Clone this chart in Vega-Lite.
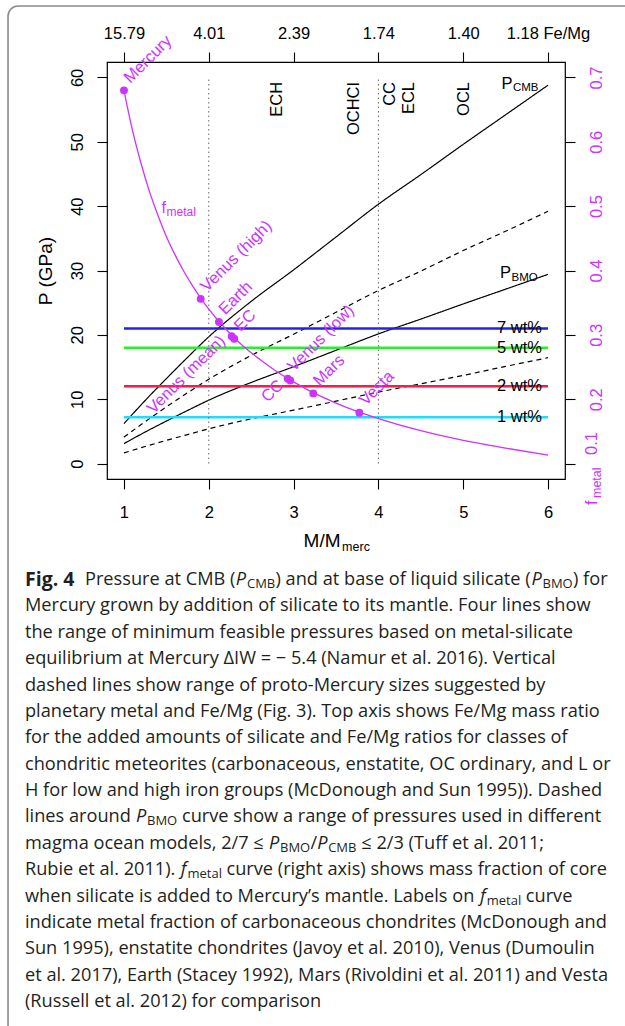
{
"$schema":"https://vega.github.io/schema/vega-lite/v6.json",
"width":458,"height":417,
"autosize":{"type":"none"},
"padding":{"left":107,"top":62,"right":60,"bottom":547},
"background":"white",
"config":{"view":{"stroke":"black","strokeWidth":1.2},"font":"Liberation Sans","text":{"font":"Liberation Sans"}},
"datasets":{
"curves":[
{"x":1,"series":"CMB","p":6.2},{"x":1,"series":"BMO","p":3.1},{"x":1,"series":"upper","p":4.1},{"x":1,"series":"lower","p":1.65},
{"x":1.25,"series":"CMB","p":9.8},{"x":1.25,"series":"BMO","p":4.9},{"x":1.25,"series":"upper","p":6.5},{"x":1.25,"series":"lower","p":2.65},
{"x":1.5,"series":"CMB","p":13.2},{"x":1.5,"series":"BMO","p":6.6},{"x":1.5,"series":"upper","p":8.8},{"x":1.5,"series":"lower","p":3.6},
{"x":1.75,"series":"CMB","p":16.5},{"x":1.75,"series":"BMO","p":8.25},{"x":1.75,"series":"upper","p":11.0},{"x":1.75,"series":"lower","p":4.5},
{"x":2,"series":"CMB","p":19.7},{"x":2,"series":"BMO","p":9.85},{"x":2,"series":"upper","p":13.1},{"x":2,"series":"lower","p":5.4},
{"x":2.5,"series":"CMB","p":25.2},{"x":2.5,"series":"BMO","p":12.6},{"x":2.5,"series":"upper","p":16.8},{"x":2.5,"series":"lower","p":6.95},
{"x":3,"series":"CMB","p":30.1},{"x":3,"series":"BMO","p":15.05},{"x":3,"series":"upper","p":20.1},{"x":3,"series":"lower","p":8.3},
{"x":3.5,"series":"CMB","p":35.2},{"x":3.5,"series":"BMO","p":17.6},{"x":3.5,"series":"upper","p":23.5},{"x":3.5,"series":"lower","p":9.7},
{"x":4,"series":"CMB","p":40.3},{"x":4,"series":"BMO","p":20.15},{"x":4,"series":"upper","p":26.9},{"x":4,"series":"lower","p":11.1},
{"x":4.5,"series":"CMB","p":44.9},{"x":4.5,"series":"BMO","p":22.45},{"x":4.5,"series":"upper","p":29.9},{"x":4.5,"series":"lower","p":12.4},
{"x":5,"series":"CMB","p":49.6},{"x":5,"series":"BMO","p":24.8},{"x":5,"series":"upper","p":33.1},{"x":5,"series":"lower","p":13.7},
{"x":5.5,"series":"CMB","p":54.2},{"x":5.5,"series":"BMO","p":27.1},{"x":5.5,"series":"upper","p":36.1},{"x":5.5,"series":"lower","p":15.1},
{"x":6,"series":"CMB","p":58.8},{"x":6,"series":"BMO","p":29.4},{"x":6,"series":"upper","p":39.2},{"x":6,"series":"lower","p":16.45}
],
"pts":[
{"name":"Mercury","x":1,"f":0.68,"side":"r"},
{"name":"Venus (high)","x":1.905,"f":0.356,"side":"r"},
{"name":"Earth","x":2.12,"f":0.32,"side":"r"},
{"name":"EC","x":2.3,"f":0.294,"side":"r"},
{"name":"Venus (mean)","x":2.27,"f":0.298,"side":"l"},
{"name":"CC","x":2.96,"f":0.229,"side":"l"},
{"name":"Venus (low)","x":2.93,"f":0.232,"side":"r"},
{"name":"Mars","x":3.232,"f":0.209,"side":"r"},
{"name":"Vesta","x":3.775,"f":0.179,"side":"r"}
],
"fcurve":[
{"x":1,"f":0.68},{"x":1.1,"f":0.618},{"x":1.2,"f":0.567},{"x":1.3,"f":0.523},{"x":1.4,"f":0.486},{"x":1.5,"f":0.453},{"x":1.6,"f":0.425},{"x":1.7,"f":0.4},{"x":1.8,"f":0.378},{"x":1.9,"f":0.358},{"x":2,"f":0.34},{"x":2.2,"f":0.309},{"x":2.4,"f":0.283},{"x":2.6,"f":0.262},{"x":2.8,"f":0.243},{"x":3,"f":0.227},{"x":3.25,"f":0.209},{"x":3.5,"f":0.194},{"x":3.75,"f":0.181},{"x":4,"f":0.17},{"x":4.5,"f":0.151},{"x":5,"f":0.136},{"x":5.5,"f":0.124},{"x":6,"f":0.113}
],
"wt":[{"label":"7 wt%","p":21},{"label":"5 wt%","p":18},{"label":"2 wt%","p":12},{"label":"1 wt%","p":7.2}]
},
"layer":[
{"layer":[
 {"data":{"name":"curves"},
  "mark":{"type":"line","color":"black","strokeWidth":1.2,"interpolate":"monotone"},
  "encoding":{
   "x":{"field":"x","type":"quantitative","scale":{"domain":[0.8,6.2],"nice":false,"zero":false},
     "axis":{"orient":"bottom","values":[1,2,3,4,5,6],"format":"d","title":null,"grid":false,"domain":false,"tickSize":10,"tickColor":"black","tickWidth":1.1,"labelFontSize":16.5,"labelColor":"black","labelPadding":15,"labelBaseline":"top","labelFlush":false,"labelOverlap":false}},
   "y":{"field":"p","type":"quantitative","scale":{"domain":[-2.4,62.4],"nice":false,"zero":false},
     "axis":{"orient":"left","values":[0,10,20,30,40,50,60],"title":"P (GPa)","titleFontSize":19,"titleFontWeight":"normal","titleColor":"black","titleFont":"Liberation Sans","titlePadding":14,"grid":false,"domain":false,"tickSize":10,"tickColor":"black","tickWidth":1.1,"labelFontSize":16.5,"labelColor":"black","labelAngle":270,"labelAlign":"center","labelBaseline":"alphabetic","labelPadding":15,"labelFlush":false,"labelOverlap":false}},
   "strokeDash":{"field":"series","type":"nominal","scale":{"domain":["CMB","BMO","upper","lower"],"range":[[1,0],[1,0],[5,4],[5,4]]},"legend":null}
  }},
 {"data":{"name":"wt"},
  "mark":{"type":"rule","strokeWidth":2.5},
  "encoding":{"x":{"datum":1,"type":"quantitative"},"x2":{"datum":6},"y":{"field":"p","type":"quantitative"},
   "color":{"field":"label","type":"nominal","scale":{"domain":["7 wt%","5 wt%","2 wt%","1 wt%"],"range":["#2323E6","#28F028","#FF1946","#1EDCFA"]},"legend":null}}},
 {"data":{"name":"wt"},
  "mark":{"type":"text","align":"right","baseline":"middle","dx":-6,"fontSize":16.5,"color":"black"},
  "encoding":{"x":{"datum":6,"type":"quantitative"},"y":{"field":"p","type":"quantitative"},"text":{"field":"label"}}},
 {"data":{"values":[{"x":2},{"x":4}]},
  "mark":{"type":"rule","color":"#666666","strokeWidth":1,"strokeDash":[1.5,3]},
  "encoding":{"x":{"field":"x","type":"quantitative"},"y":{"datum":0,"type":"quantitative"},"y2":{"datum":60}}},
 {"data":{"values":[{"label":"ECH","x":2.81},{"label":"OCHCI","x":3.71},{"label":"CC","x":4.14},{"label":"ECL","x":4.36},{"label":"OCL","x":5.01}]},
  "mark":{"type":"text","angle":270,"align":"right","baseline":"middle","fontSize":16.5,"color":"black"},
  "encoding":{"x":{"field":"x","type":"quantitative"},"y":{"datum":59.3,"type":"quantitative"},"text":{"field":"label"}}},
 {"data":{"values":[{"x":5.45,"p":59,"sub":"CMB"},{"x":5.435,"p":29.6,"sub":"BMO"}]},
  "mark":{"type":"text","text":"P","align":"left","baseline":"middle","fontSize":16.5,"color":"black"},
  "encoding":{"x":{"field":"x","type":"quantitative"},"y":{"field":"p","type":"quantitative"}}},
 {"data":{"values":[{"x":5.45,"p":59,"sub":"CMB"},{"x":5.435,"p":29.6,"sub":"BMO"}]},
  "mark":{"type":"text","align":"left","baseline":"middle","dx":11.5,"dy":4.5,"fontSize":11.5,"color":"black"},
  "encoding":{"x":{"field":"x","type":"quantitative"},"y":{"field":"p","type":"quantitative"},"text":{"field":"sub"}}},
 {"data":{"values":[{"x":3.118,"p":-12.97}]},
  "mark":{"type":"text","text":"M/M","align":"left","baseline":"alphabetic","fontSize":19,"color":"black"},
  "encoding":{"x":{"field":"x","type":"quantitative"},"y":{"field":"p","type":"quantitative"}}},
 {"data":{"values":[{"x":3.118,"p":-12.97}]},
  "mark":{"type":"text","text":"merc","align":"left","baseline":"alphabetic","dx":38.5,"dy":4,"fontSize":12.5,"color":"black"},
  "encoding":{"x":{"field":"x","type":"quantitative"},"y":{"field":"p","type":"quantitative"}}},
 {"data":{"values":[{}]},
  "mark":{"type":"rect","fill":"transparent","stroke":"#8a8a8a","strokeWidth":1.6,"cornerRadius":10},
  "encoding":{"x":{"datum":-0.367,"type":"quantitative"},"x2":{"datum":7.3},"y":{"datum":71.1,"type":"quantitative"},"y2":{"datum":-95}}}
]},
{"layer":[
 {"data":{"name":"fcurve"},
  "mark":{"type":"line","color":"#CC33FF","strokeWidth":1.3,"interpolate":"monotone"},
  "encoding":{
   "x":{"field":"x","type":"quantitative","scale":{"domain":[0.8,6.2],"nice":false,"zero":false},
     "axis":{"orient":"top","values":[1,2,3,4,5,6],"labelExpr":"['','15.79','4.01','2.39','1.74','1.40','1.18 Fe/Mg'][datum.value]","title":null,"grid":false,"domain":false,"tickSize":10,"tickColor":"black","tickWidth":1.1,"labelFontSize":16.5,"labelColor":"black","labelPadding":14,"labelBaseline":"alphabetic","labelFlush":false,"labelOverlap":false}},
   "y":{"field":"f","type":"quantitative","scale":{"domain":[0.076,0.724],"nice":false,"zero":false},
     "axis":{"orient":"right","values":[0.1,0.2,0.3,0.4,0.5,0.6,0.7],"labelExpr":"datum.value < 0.15 ? '' : format(datum.value, '.1f')","title":null,"grid":false,"domain":false,"tickSize":10,"tickColor":"black","tickWidth":1.1,"labelFontSize":16.5,"labelColor":"#CC33FF","labelAngle":270,"labelAlign":"center","labelBaseline":"top","labelPadding":13,"labelFlush":false,"labelOverlap":false}}
  }},
 {"data":{"name":"pts"},
  "mark":{"type":"circle","size":62,"opacity":1,"color":"#CC33FF"},
  "encoding":{"x":{"field":"x","type":"quantitative"},"y":{"field":"f","type":"quantitative"}}},
 {"data":{"name":"pts"},
  "transform":[{"filter":"datum.side == 'r'"}],
  "mark":{"type":"text","angle":315,"align":"left","baseline":"alphabetic","dx":9,"fontSize":16.5,"color":"#CC33FF"},
  "encoding":{"x":{"field":"x","type":"quantitative"},"y":{"field":"f","type":"quantitative"},"text":{"field":"name"}}},
 {"data":{"name":"pts"},
  "transform":[{"filter":"datum.side == 'l'"}],
  "mark":{"type":"text","angle":315,"align":"right","baseline":"alphabetic","dx":-8,"fontSize":16.5,"color":"#CC33FF"},
  "encoding":{"x":{"field":"x","type":"quantitative"},"y":{"field":"f","type":"quantitative"},"text":{"field":"name"}}},
 {"data":{"values":[{"x":1.443,"f":0.489}]},
  "mark":{"type":"text","text":"f","align":"left","baseline":"alphabetic","fontSize":16,"color":"#CC33FF"},
  "encoding":{"x":{"field":"x","type":"quantitative"},"y":{"field":"f","type":"quantitative"}}},
 {"data":{"values":[{"x":1.443,"f":0.489}]},
  "mark":{"type":"text","text":"metal","align":"left","baseline":"alphabetic","dx":5,"dy":3,"fontSize":12,"color":"#CC33FF"},
  "encoding":{"x":{"field":"x","type":"quantitative"},"y":{"field":"f","type":"quantitative"}}},
 {"data":{"values":[{"x":6.575,"f":0.0356}]},
  "mark":{"type":"text","text":"f","angle":270,"align":"left","baseline":"alphabetic","fontSize":16.5,"color":"#CC33FF"},
  "encoding":{"x":{"field":"x","type":"quantitative"},"y":{"field":"f","type":"quantitative"}}},
 {"data":{"values":[{"x":6.575,"f":0.0356}]},
  "mark":{"type":"text","text":"metal","angle":270,"align":"left","baseline":"alphabetic","dx":7,"dy":4,"fontSize":12.5,"color":"#CC33FF"},
  "encoding":{"x":{"field":"x","type":"quantitative"},"y":{"field":"f","type":"quantitative"}}},
 {"data":{"values":[{"x":6.575,"f":0.0356}]},
  "mark":{"type":"text","text":"0.1","angle":270,"align":"left","baseline":"alphabetic","dx":50,"fontSize":16.5,"color":"#CC33FF"},
  "encoding":{"x":{"field":"x","type":"quantitative"},"y":{"field":"f","type":"quantitative"}}}
]},
{"layer":[
 {"data":{"values":[{"line":1,"text":"Fig. 4"}]},
  "mark":{"type":"text","align":"left","baseline":"middle","font":"Open Sans","fontWeight":"bold","fontSize":19.5,"color":"#231F20"},
  "encoding":{"x":{"datum":-0.167,"type":"quantitative","scale":{"domain":[0.8,6.2],"nice":false,"zero":false},"axis":null},
   "y":{"field":"line","type":"quantitative","scale":{"domain":[-18.64,-2.83],"reverse":true,"nice":false,"zero":false},"axis":null},
   "text":{"field":"text"}}},
 {"data":{"values":[{"line":1,"text":"Pressure at CMB ("}]},
  "mark":{"type":"text","align":"left","baseline":"middle","dx":60,"font":"Open Sans","fontSize":18.2,"color":"#231F20"},
  "encoding":{"x":{"datum":-0.167,"type":"quantitative"},"y":{"field":"line","type":"quantitative"},"text":{"field":"text"}}},
 {"data":{"values":[{"line":1,"text":"P"}]},
  "mark":{"type":"text","align":"left","baseline":"middle","dx":210.7,"font":"Open Sans","fontStyle":"italic","fontSize":18.2,"color":"#231F20"},
  "encoding":{"x":{"datum":-0.167,"type":"quantitative"},"y":{"field":"line","type":"quantitative"},"text":{"field":"text"}}},
 {"data":{"values":[{"line":1,"text":"CMB"}]},
  "mark":{"type":"text","align":"left","baseline":"middle","dx":222,"dy":4,"font":"Open Sans","fontSize":13,"color":"#231F20"},
  "encoding":{"x":{"datum":-0.167,"type":"quantitative"},"y":{"field":"line","type":"quantitative"},"text":{"field":"text"}}},
 {"data":{"values":[{"line":1,"text":") and at base of liquid silicate ("}]},
  "mark":{"type":"text","align":"left","baseline":"middle","dx":250.5,"font":"Open Sans","fontSize":18.2,"color":"#231F20"},
  "encoding":{"x":{"datum":-0.167,"type":"quantitative"},"y":{"field":"line","type":"quantitative"},"text":{"field":"text"}}},
 {"data":{"values":[{"line":1,"text":"P"}]},
  "mark":{"type":"text","align":"left","baseline":"middle","dx":506.5,"font":"Open Sans","fontStyle":"italic","fontSize":18.2,"color":"#231F20"},
  "encoding":{"x":{"datum":-0.167,"type":"quantitative"},"y":{"field":"line","type":"quantitative"},"text":{"field":"text"}}},
 {"data":{"values":[{"line":1,"text":"BMO"}]},
  "mark":{"type":"text","align":"left","baseline":"middle","dx":517.5,"dy":4,"font":"Open Sans","fontSize":13,"color":"#231F20"},
  "encoding":{"x":{"datum":-0.167,"type":"quantitative"},"y":{"field":"line","type":"quantitative"},"text":{"field":"text"}}},
 {"data":{"values":[{"line":1,"text":") for"}]},
  "mark":{"type":"text","align":"left","baseline":"middle","dx":548,"font":"Open Sans","fontSize":18.2,"color":"#231F20"},
  "encoding":{"x":{"datum":-0.167,"type":"quantitative"},"y":{"field":"line","type":"quantitative"},"text":{"field":"text"}}},
 {"data":{"values":[
   {"line":2,"text":"Mercury grown by addition of silicate to its mantle. Four lines show"},
   {"line":3,"text":"the range of minimum feasible pressures based on metal-silicate"},
   {"line":4,"text":"equilibrium at Mercury ΔIW = − 5.4 (Namur et al. 2016). Vertical"},
   {"line":5,"text":"dashed lines show range of proto-Mercury sizes suggested by"},
   {"line":6,"text":"planetary metal and Fe/Mg (Fig. 3). Top axis shows Fe/Mg mass ratio"},
   {"line":7,"text":"for the added amounts of silicate and Fe/Mg ratios for classes of"},
   {"line":8,"text":"chondritic meteorites (carbonaceous, enstatite, OC ordinary, and L or"},
   {"line":9,"text":"H for low and high iron groups (McDonough and Sun 1995)). Dashed"},
   {"line":10,"text":"lines around"},
   {"line":11,"text":"magma ocean models, 2/7 ≤"},
   {"line":12,"text":"Rubie et al. 2011)."},
   {"line":13,"text":"when silicate is added to Mercury’s mantle. Labels on"},
   {"line":14,"text":"indicate metal fraction of carbonaceous chondrites (McDonough and"},
   {"line":15,"text":"Sun 1995), enstatite chondrites (Javoy et al. 2010), Venus (Dumoulin"},
   {"line":16,"text":"et al. 2017), Earth (Stacey 1992), Mars (Rivoldini et al. 2011) and Vesta"},
   {"line":17,"text":"(Russell et al. 2012) for comparison"}
  ]},
  "mark":{"type":"text","align":"left","baseline":"middle","font":"Open Sans","fontSize":18.2,"color":"#231F20"},
  "encoding":{"x":{"datum":-0.167,"type":"quantitative"},"y":{"field":"line","type":"quantitative"},"text":{"field":"text"}}},
 {"data":{"values":[{"line":10,"text":"P"}]},
  "mark":{"type":"text","align":"left","baseline":"middle","dx":111,"font":"Open Sans","fontStyle":"italic","fontSize":18.2,"color":"#231F20"},
  "encoding":{"x":{"datum":-0.167,"type":"quantitative"},"y":{"field":"line","type":"quantitative"},"text":{"field":"text"}}},
 {"data":{"values":[{"line":10,"text":"BMO"}]},
  "mark":{"type":"text","align":"left","baseline":"middle","dx":122,"dy":4,"font":"Open Sans","fontSize":13,"color":"#231F20"},
  "encoding":{"x":{"datum":-0.167,"type":"quantitative"},"y":{"field":"line","type":"quantitative"},"text":{"field":"text"}}},
 {"data":{"values":[{"line":10,"text":"curve show a range of pressures used in different"}]},
  "mark":{"type":"text","align":"left","baseline":"middle","dx":157,"font":"Open Sans","fontSize":18.2,"color":"#231F20"},
  "encoding":{"x":{"datum":-0.167,"type":"quantitative"},"y":{"field":"line","type":"quantitative"},"text":{"field":"text"}}},
 {"data":{"values":[{"line":11,"text":"P"}]},
  "mark":{"type":"text","align":"left","baseline":"middle","dx":244,"font":"Open Sans","fontStyle":"italic","fontSize":18.2,"color":"#231F20"},
  "encoding":{"x":{"datum":-0.167,"type":"quantitative"},"y":{"field":"line","type":"quantitative"},"text":{"field":"text"}}},
 {"data":{"values":[{"line":11,"text":"BMO"}]},
  "mark":{"type":"text","align":"left","baseline":"middle","dx":255,"dy":4,"font":"Open Sans","fontSize":13,"color":"#231F20"},
  "encoding":{"x":{"datum":-0.167,"type":"quantitative"},"y":{"field":"line","type":"quantitative"},"text":{"field":"text"}}},
 {"data":{"values":[{"line":11,"text":"/"}]},
  "mark":{"type":"text","align":"left","baseline":"middle","dx":285.4,"font":"Open Sans","fontSize":18.2,"color":"#231F20"},
  "encoding":{"x":{"datum":-0.167,"type":"quantitative"},"y":{"field":"line","type":"quantitative"},"text":{"field":"text"}}},
 {"data":{"values":[{"line":11,"text":"P"}]},
  "mark":{"type":"text","align":"left","baseline":"middle","dx":292.2,"font":"Open Sans","fontStyle":"italic","fontSize":18.2,"color":"#231F20"},
  "encoding":{"x":{"datum":-0.167,"type":"quantitative"},"y":{"field":"line","type":"quantitative"},"text":{"field":"text"}}},
 {"data":{"values":[{"line":11,"text":"CMB"}]},
  "mark":{"type":"text","align":"left","baseline":"middle","dx":303.2,"dy":4,"font":"Open Sans","fontSize":13,"color":"#231F20"},
  "encoding":{"x":{"datum":-0.167,"type":"quantitative"},"y":{"field":"line","type":"quantitative"},"text":{"field":"text"}}},
 {"data":{"values":[{"line":11,"text":"≤ 2/3 (Tuff et al. 2011;"}]},
  "mark":{"type":"text","align":"left","baseline":"middle","dx":336.3,"font":"Open Sans","fontSize":18.2,"color":"#231F20"},
  "encoding":{"x":{"datum":-0.167,"type":"quantitative"},"y":{"field":"line","type":"quantitative"},"text":{"field":"text"}}},
 {"data":{"values":[{"line":12,"text":"f"}]},
  "mark":{"type":"text","align":"left","baseline":"middle","dx":155.7,"font":"Open Sans","fontStyle":"italic","fontSize":18.2,"color":"#231F20"},
  "encoding":{"x":{"datum":-0.167,"type":"quantitative"},"y":{"field":"line","type":"quantitative"},"text":{"field":"text"}}},
 {"data":{"values":[{"line":12,"text":"metal"}]},
  "mark":{"type":"text","align":"left","baseline":"middle","dx":162.5,"dy":4,"font":"Open Sans","fontSize":13,"color":"#231F20"},
  "encoding":{"x":{"datum":-0.167,"type":"quantitative"},"y":{"field":"line","type":"quantitative"},"text":{"field":"text"}}},
 {"data":{"values":[{"line":12,"text":"curve (right axis) shows mass fraction of core"}]},
  "mark":{"type":"text","align":"left","baseline":"middle","dx":201.5,"font":"Open Sans","fontSize":18.2,"color":"#231F20"},
  "encoding":{"x":{"datum":-0.167,"type":"quantitative"},"y":{"field":"line","type":"quantitative"},"text":{"field":"text"}}},
 {"data":{"values":[{"line":13,"text":"f"}]},
  "mark":{"type":"text","align":"left","baseline":"middle","dx":455,"font":"Open Sans","fontStyle":"italic","fontSize":18.2,"color":"#231F20"},
  "encoding":{"x":{"datum":-0.167,"type":"quantitative"},"y":{"field":"line","type":"quantitative"},"text":{"field":"text"}}},
 {"data":{"values":[{"line":13,"text":"metal"}]},
  "mark":{"type":"text","align":"left","baseline":"middle","dx":461.8,"dy":4,"font":"Open Sans","fontSize":13,"color":"#231F20"},
  "encoding":{"x":{"datum":-0.167,"type":"quantitative"},"y":{"field":"line","type":"quantitative"},"text":{"field":"text"}}},
 {"data":{"values":[{"line":13,"text":"curve"}]},
  "mark":{"type":"text","align":"left","baseline":"middle","dx":500.8,"font":"Open Sans","fontSize":18.2,"color":"#231F20"},
  "encoding":{"x":{"datum":-0.167,"type":"quantitative"},"y":{"field":"line","type":"quantitative"},"text":{"field":"text"}}}
]}
],
"resolve":{"scale":{"x":"independent","y":"independent"}}
}
